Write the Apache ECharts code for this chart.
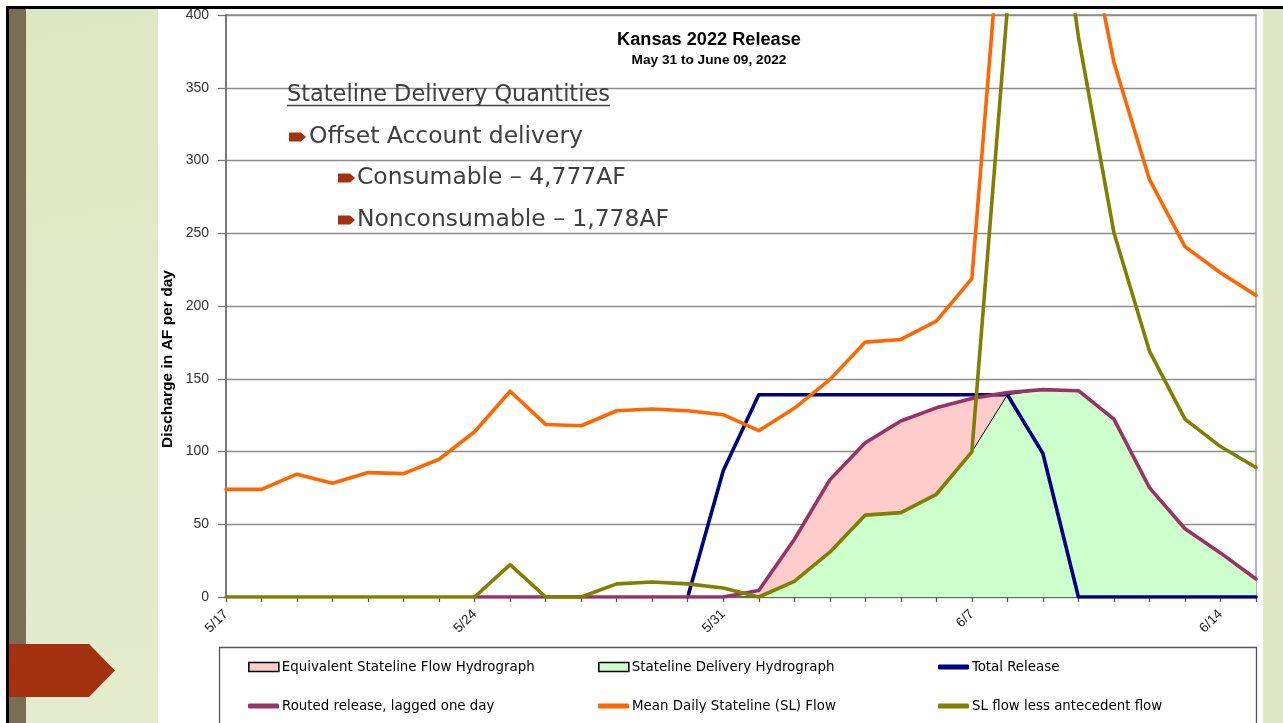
<!DOCTYPE html>
<html><head><meta charset="utf-8">
<script src="https://cdn.jsdelivr.net/npm/echarts@6/dist/echarts.min.js"></script>
<style>html,body{margin:0;padding:0;background:#fff;overflow:hidden}#c{width:1283px;height:723px}</style>
</head><body><div id="c"></div>
<script>
// ---- data ----
const categories = ['5/17','5/18','5/19','5/20','5/21','5/22','5/23','5/24','5/25','5/26','5/27','5/28','5/29','5/30','5/31',
  '6/1','6/2','6/3','6/4','6/5','6/6','6/7','6/8','6/9','6/10','6/11','6/12','6/13','6/14','6/15'];
const yTicks = [0, 50, 100, 150, 200, 250, 300, 350, 400];
const equivalentFlow = [null,null,null,null,null,null,null,null,null,null,null,null,null,null,null,
  4.5,39.5,80.5,106,121,130,136.5,139,null,null,null,null,null,null,null];
const deliveryHydro = [null,null,null,null,null,null,null,null,null,null,null,null,null,null,null,
  0,10.8,30.8,56.3,58,70.6,99.8,139,142.5,141.8,122.3,75.2,46.9,30.3,12.4];
const totalRelease = [null,null,null,null,null,null,null,null,null,null,null,null,null,0,86.7,
  139,139,139,139,139,139,139,139,98.6,0,0,0,0,0,0];
const routedRelease = [null,null,null,null,null,null,null,0,0,0,0,0,0,0,0,
  4.5,39.5,80.5,106,121,130,136.5,140.5,142.5,141.8,122.3,75.2,46.9,30.3,12.4];
const meanStateline = [74,74,84.4,78.2,85.5,84.8,94.7,113.6,141.4,118.6,117.7,128,129.2,128,125.3,
  114.3,129.7,149.4,175.2,177,189.6,218.8,520,640,489,367.4,287,240.8,222.9,207.3];
const lessAntecedent = [0,0,0,0,0,0,0,0,22.3,0,0,9,10.3,9,6.2,
  0,10.8,30.8,56.3,58,70.6,99.8,405,560,385,250.4,169,122.3,103.4,89];
const seriesNames = ['Equivalent Stateline Flow Hydrograph','Stateline Delivery Hydrograph','Total Release',
  'Routed release, lagged one day','Mean Daily Stateline (SL) Flow','SL flow less antecedent flow'];
const titleText = 'Kansas 2022 Release';
const subtitleText = 'May 31 to June 09, 2022';
const yName = 'Discharge in AF per day';
const noteHeading = 'Stateline Delivery Quantities';
const noteLines = ['Offset Account delivery', 'Consumable \u2013 4,777AF', 'Nonconsumable \u2013 1,778AF'];

// ---- helpers ----
const ctx = document.createElement('canvas').getContext('2d');
function fit(text, family, weight, target) {
  ctx.font = weight + ' 100px ' + family;
  return 100 * target / ctx.measureText(text).width;
}
function hasFont(f) {
  const s = 'abcdefghijklmnopqrstuvwxyz ABCDEFGHIJ 0123456789';
  ctx.font = '100px "' + f + '", monospace';
  const a = ctx.measureText(s).width;
  ctx.font = '100px monospace';
  const b = ctx.measureText(s).width;
  ctx.font = '100px "' + f + '", serif';
  const c = ctx.measureText(s).width;
  ctx.font = '100px serif';
  const d = ctx.measureText(s).width;
  return a !== b || c !== d;
}
const ARIAL = '"Liberation Sans", Arial, sans-serif';
const narrowPick = ['Liberation Sans Narrow', 'Arial Narrow', 'DejaVu Sans Condensed', 'Noto Sans Condensed',
  'Open Sans Condensed', 'Roboto Condensed'].find(hasFont);
const NARROW = narrowPick ? '"' + narrowPick + '", "Liberation Sans", sans-serif' : ARIAL;
const GOTHIC = '"DejaVu Sans", sans-serif';
const titleSize = fit(titleText, ARIAL, 'bold', 184);
const subSize = fit(subtitleText, ARIAL, 'bold', 155);
const yNameSize = fit(yName, ARIAL, 'bold', 178);
const legSize = Math.min(15, fit(seriesNames[0], NARROW, 'normal', 253));
const noteSize = fit(noteLines[0], GOTHIC, 'normal', 274);

const C = {pink:'#FFCCCC', green:'#CCFFCC', blue:'#000080', purple:'#993366', orange:'#FF6600', olive:'#808000'};
const TXT = '#404040', BUL = '#A5300F';

function bullet(x, y) {
  return {type:'polygon', z:20, shape:{points:[[x,y-4.5],[x+12,y-4.5],[x+17,y],[x+12,y+4.5],[x,y+4.5]]}, style:{fill:BUL}};
}
function note(text, x, y) {
  return {type:'text', z:20, x:x, y:y, style:{text:text, fill:TXT, font:'normal ' + noteSize.toFixed(2) + 'px ' + GOTHIC, textVerticalAlign:'middle'}};
}

const legendPos = [[248,667],[598,667],[938,667],[248,706],[598,706],[938,706]];
const legendIcons = [
  {icon:'rect', w:30, h:9, style:{color:C.pink, borderColor:'#000', borderWidth:1.6}},
  {icon:'rect', w:30, h:9, style:{color:C.green, borderColor:'#000', borderWidth:1.6}},
  {icon:'roundRect', w:31, h:5, style:{color:C.blue}},
  {icon:'roundRect', w:31, h:5, style:{color:C.purple}},
  {icon:'roundRect', w:31, h:5, style:{color:C.orange}},
  {icon:'roundRect', w:31, h:5, style:{color:C.olive}}
];
const legends = seriesNames.map((n, i) => ({
  left: legendPos[i][0], top: legendPos[i][1] - 9, padding: 0, selectedMode: false,
  itemWidth: legendIcons[i].w, itemHeight: legendIcons[i].h,
  data: [{name: n, icon: legendIcons[i].icon, itemStyle: legendIcons[i].style}],
  textStyle: {fontFamily: NARROW, fontSize: legSize, color: '#000', padding: [0,0,0,-2], lineHeight: 18}
}));

function lineSeries(name, data, color, z) {
  return {name, type:'line', data, symbol:'none', z, connectNulls:false, animation:false,
    lineStyle:{color, width:3.6, join:'round', cap:'round'}, itemStyle:{color}};
}
function areaSeries(name, data, color, z, border) {
  return {name, type:'line', data, symbol:'none', z, animation:false,
    lineStyle:{color:'#000', width:border}, itemStyle:{color},
    areaStyle:{color, opacity:1}};
}

const chart = echarts.init(document.getElementById('c'), null, {renderer:'canvas'});
chart.setOption({
  backgroundColor: '#ffffff',
  animation: false,
  title: {
    text: titleText, subtext: subtitleText, left: 709, top: 31, textAlign: 'center', itemGap: 4, padding: 0,
    textStyle: {fontFamily: ARIAL, fontWeight: 'bold', fontSize: titleSize, color: '#000'},
    subtextStyle: {fontFamily: ARIAL, fontWeight: 'bold', fontSize: subSize, color: '#000'}
  },
  legend: legends,
  grid: {left: 226, right: 27, top: 15, bottom: 126, show: true, borderColor: '#8c8c8c', borderWidth: 1.3, backgroundColor: '#fff'},
  xAxis: {
    type: 'category', data: categories, boundaryGap: false,
    axisLine: {lineStyle: {color: '#666', width: 2}},
    axisTick: {show: true, interval: 0, length: 5, lineStyle: {color: '#555', width: 1.2}},
    axisLabel: {interval: 6, rotate: 45, margin: 15, fontFamily: ARIAL, fontSize: 13.5, color: '#222'},
    splitLine: {show: false}
  },
  yAxis: {
    type: 'value', min: yTicks[0], max: yTicks[yTicks.length - 1], interval: yTicks[1] - yTicks[0],
    axisLine: {show: true, lineStyle: {color: '#666', width: 1.5}},
    axisTick: {show: true, length: 8, lineStyle: {color: '#777', width: 1.3}},
    axisLabel: {margin: 17, fontFamily: ARIAL, fontSize: 14, color: '#333'},
    splitLine: {show: true, lineStyle: {color: '#8c8c8c', width: 1.3}}
  },
  series: [
    areaSeries(seriesNames[0], equivalentFlow, C.pink, 2, 0),
    areaSeries(seriesNames[1], deliveryHydro, C.green, 2, 1),
    lineSeries(seriesNames[2], totalRelease, C.blue, 3),
    lineSeries(seriesNames[3], routedRelease, C.purple, 3),
    lineSeries(seriesNames[4], meanStateline, C.orange, 3),
    lineSeries(seriesNames[5], lessAntecedent, C.olive, 3)
  ],
  graphic: [
    {type:'rect', z:-5, silent:true, shape:{x:6, y:6, width:1277, height:3}, style:{fill:'#000'}},
    {type:'rect', z:-5, silent:true, shape:{x:6, y:6, width:3, height:717}, style:{fill:'#000'}},
    {type:'rect', z:-5, silent:true, shape:{x:9, y:9, width:17, height:714}, style:{fill:'#776e53'}},
    {type:'rect', z:-5, silent:true, shape:{x:26, y:9, width:132, height:714},
      style:{fill:new echarts.graphic.LinearGradient(0,0,1,1,[{offset:0,color:'#dfe8c4'},{offset:1,color:'#e4ecce'}])}},
    {type:'rect', z:-5, silent:true, shape:{x:1263, y:9, width:20, height:714}, style:{fill:'#dfe8c6'}},
    {type:'polygon', z:10, silent:true, shape:{points:[[9,644],[89,644],[115,670.5],[89,697],[9,697]]}, style:{fill:'#A3300F'}},
    {type:'rect', z:-1, silent:true, shape:{x:219.5, y:647.5, width:1037, height:90}, style:{fill:'#fff', stroke:'#555', lineWidth:1.3}},
    {type:'text', z:20, x:168, y:359, rotation:Math.PI/2, style:{text:yName, fill:'#000',
      font:'bold ' + yNameSize.toFixed(2) + 'px ' + ARIAL, textAlign:'center', textVerticalAlign:'middle'}},
    {type:'text', z:20, x:287, y:95, style:{text:noteHeading, fill:TXT,
      font:'normal ' + fit(noteHeading, GOTHIC, 'normal', 323).toFixed(2) + 'px ' + GOTHIC, textVerticalAlign:'middle'}},
    {type:'line', z:20, shape:{x1:287, y1:105.5, x2:610, y2:105.5}, style:{stroke:TXT, lineWidth:1.5}},
    bullet(289, 137), note(noteLines[0], 309, 137),
    bullet(338, 178), note(noteLines[1], 357, 178),
    bullet(338, 220), note(noteLines[2], 357, 220)
  ]
});
</script>
</body></html>
